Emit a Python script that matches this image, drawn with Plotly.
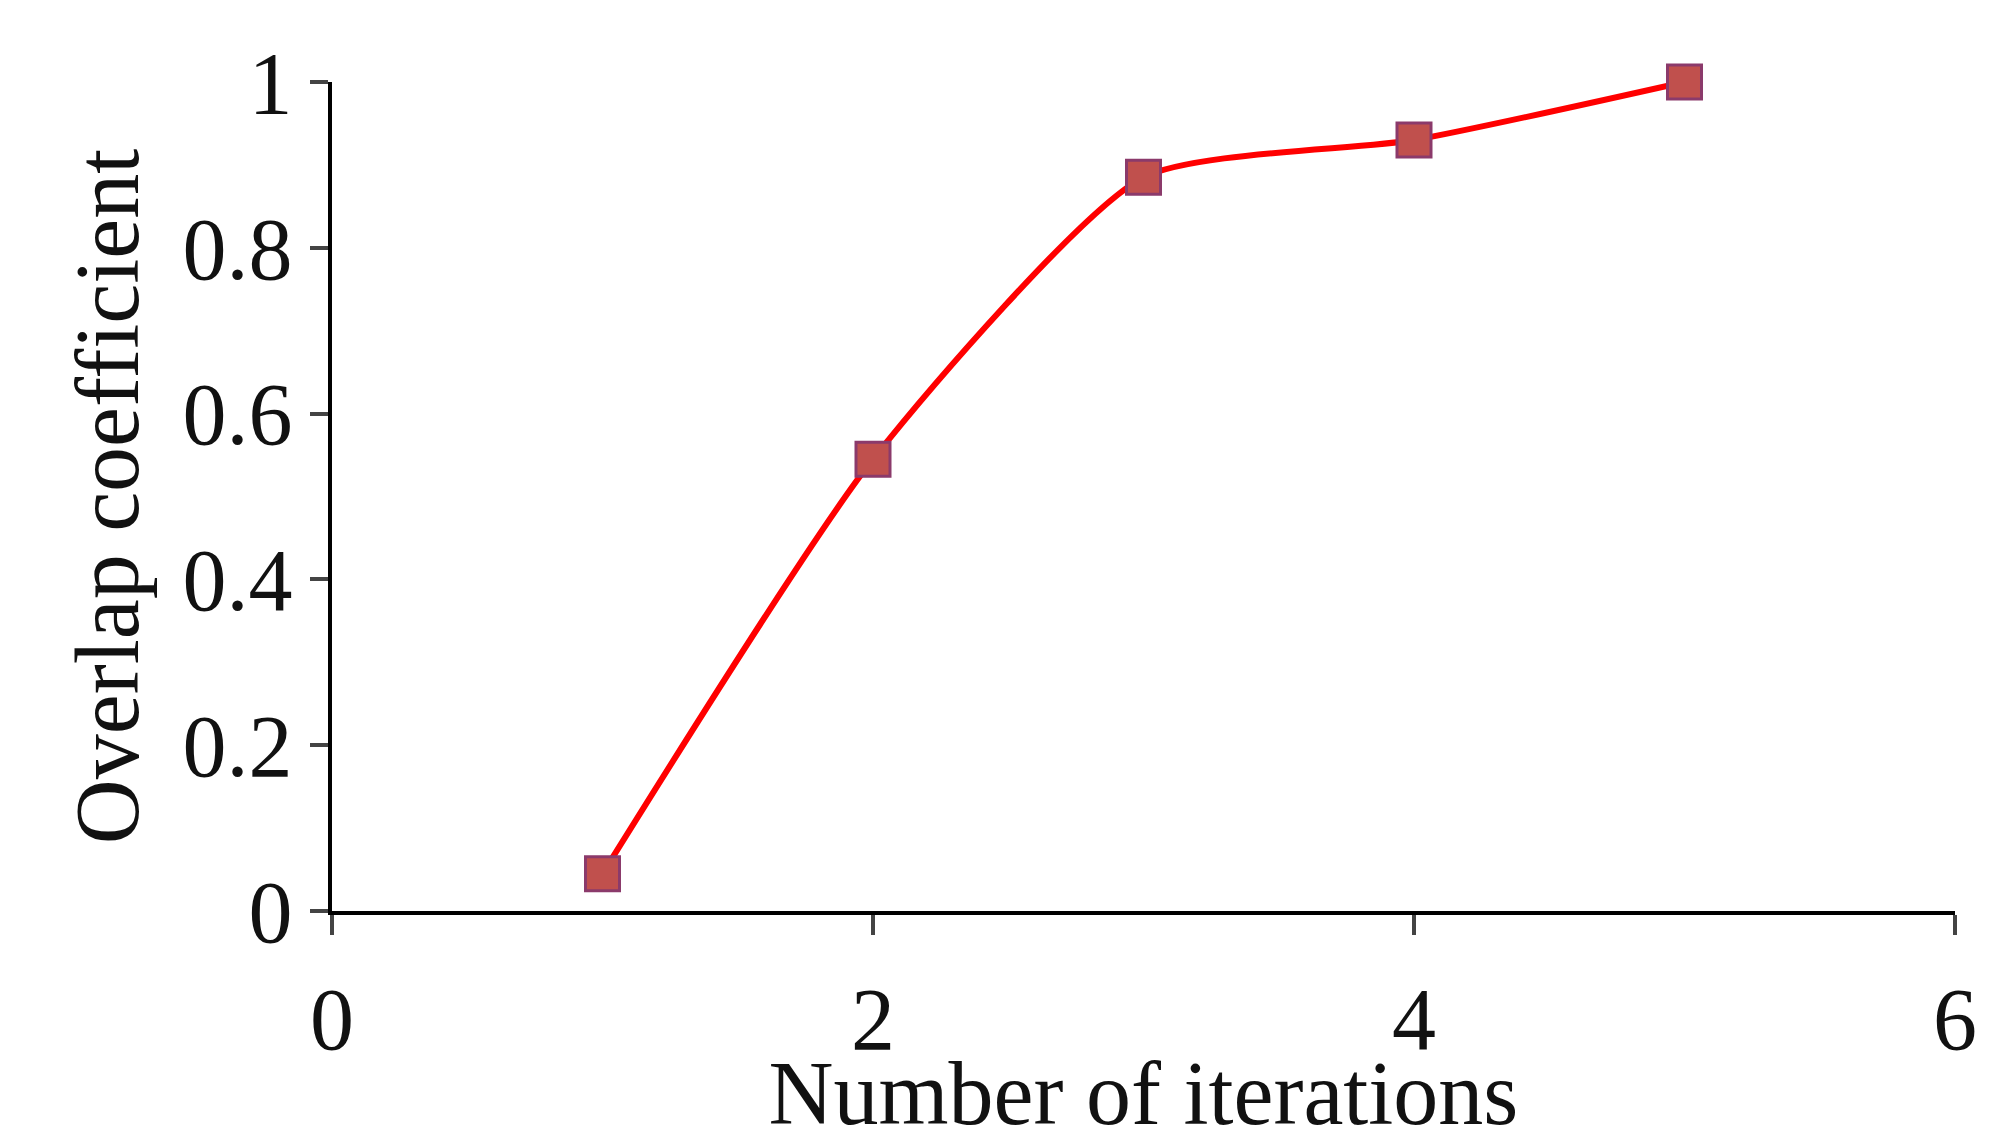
import plotly.graph_objects as go

iterations = [1, 2, 3, 4, 5]
overlap = [0.045, 0.545, 0.885, 0.93, 1.0]
x_ticks = [0, 2, 4, 6]
y_ticks = [0, 0.2, 0.4, 0.6, 0.8, 1]
y_labels = ["0", "0.2", "0.4", "0.6", "0.8", "1"]

fig = go.Figure(go.Scatter(
    x=iterations, y=overlap, mode="lines+markers", cliponaxis=False,
    line=dict(color="#ff0000", width=6, shape="spline", smoothing=0.6),
    marker=dict(symbol="square", size=34, color="#c0504d",
                line=dict(color="#8b3a6b", width=3)),
))
font = dict(family="Liberation Serif, Times New Roman, serif", color="#111", size=88)
fig.update_layout(
    width=1995, height=1135, plot_bgcolor="white", paper_bgcolor="white",
    margin=dict(l=324, r=48, t=74, b=215), showlegend=False, font=font,
)
fig.update_xaxes(range=[0, 6], tickvals=x_ticks, ticks="outside", ticklen=20,
                 tickwidth=4, showline=True, linewidth=4, linecolor="black",
                 showgrid=False, zeroline=False, ticklabelstandoff=8,
                 title=dict(text="Number of iterations", standoff=0, font=dict(size=90)))
fig.update_yaxes(range=[0, 1], tickvals=y_ticks, ticktext=y_labels, ticks="outside",
                 ticklen=18, tickwidth=4, showline=True, linewidth=4, linecolor="black",
                 showgrid=False, zeroline=False, ticklabelstandoff=0,
                 title=dict(text="Overlap coefficient", standoff=15, font=dict(size=90)))
fig.write_html("out.html")
